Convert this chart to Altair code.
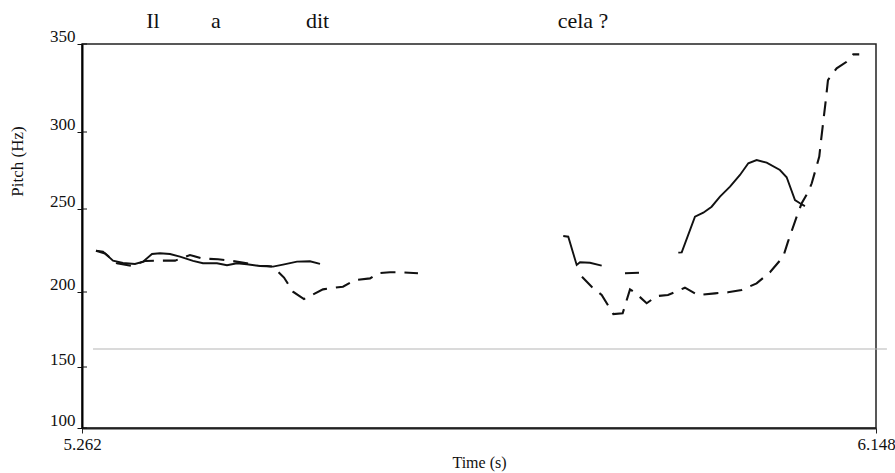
import altair as alt
import pandas as pd

# ---- data ----
words = ["Il", "a", "dit", "cela ?"]
word_time = [5.3412, 5.4115, 5.5248, 5.8210]

# solid pitch track (segments separated by unvoiced gaps)
solid_seg = [0] * 22 + [1] * 6 + [2] * 2 + [3] * 16
solid_time = [5.2776, 5.2854, 5.2966, 5.3077, 5.3211, 5.3301, 5.3401, 5.3490, 5.3602, 5.3713, 5.3859,
              5.3970, 5.4126, 5.4238, 5.4349, 5.4461, 5.4606, 5.4751, 5.4863, 5.5019, 5.5164, 5.5276,
              5.7990, 5.8046, 5.8140, 5.8177, 5.8288, 5.8419,
              5.8679, 5.8835,
              5.9274, 5.9312, 5.9460, 5.9553, 5.9646, 5.9739, 5.9851, 5.9962, 6.0055, 6.0148, 6.0260,
              6.0408, 6.0483, 6.0576, 6.0631, 6.0687]
solid_pitch = [224.9, 224.3, 218.9, 217.5, 216.9, 218.3, 222.9, 223.3, 222.9, 221.3, 218.7,
               217.3, 217.3, 216.1, 217.3, 216.7, 215.7, 215.3, 216.5, 218.3, 218.5, 216.9,
               233.7, 233.3, 216.3, 217.9, 217.6, 215.9,
               211.3, 211.6,
               223.7, 223.9, 245.4, 247.8, 251.5, 258.0, 264.5, 272.1, 279.7, 281.8, 280.1,
               275.3, 270.6, 255.8, 253.7, 251.9]

# dashed pitch track
dashed_seg = [0] * 26 + [1] * 32
dashed_time = [5.2776, 5.2877, 5.3011, 5.3178, 5.3323, 5.3524, 5.3658, 5.3825, 5.3970, 5.4138, 5.4271,
               5.4461, 5.4573, 5.4751, 5.4874, 5.4974, 5.5097, 5.5309, 5.5443, 5.5532, 5.5666, 5.5834,
               5.5923, 5.6057, 5.6168, 5.6369,
               5.8199, 5.8307, 5.8419, 5.8549, 5.8653, 5.8735, 5.8801, 5.8921, 5.9033, 5.9159, 5.9348,
               5.9493, 5.9683, 5.9828, 5.9981, 6.0148, 6.0297, 6.0445, 6.0498, 6.0595, 6.0651, 6.0725,
               6.0763, 6.0847, 6.0863, 6.0918, 6.0944, 6.0977, 6.1041, 6.1152, 6.1226, 6.1293]
dashed_pitch = [224.9, 223.2, 217.3, 215.7, 218.7, 218.9, 218.9, 222.3, 220.1, 219.7, 218.9,
                217.3, 216.3, 215.3, 208.7, 200.2, 195.3, 201.6, 202.6, 203.2, 207.2, 208.2,
                211.3, 211.9, 211.9, 211.3,
                209.2, 203.2, 198.0, 185.3, 185.8, 201.6, 199.1, 192.5, 197.3, 198.0, 202.6,
                198.0, 199.1, 199.8, 201.2, 205.2, 211.9, 221.3, 230.3, 245.4, 253.7, 261.2,
                266.7, 284.0, 292.7, 317.2, 329.5, 331.8, 336.2, 339.9, 344.1, 344.1]

# thin grey reference line
ref_time = [5.2743]
ref_time_end = [6.1602]
ref_pitch = [162.0]

x_ticks = [5.262, 6.148]
y_ticks = [100, 150, 200, 250, 300, 350]

FONT = "Liberation Serif"

solid_df = pd.DataFrame({"time": solid_time, "pitch": solid_pitch, "seg": solid_seg})
dashed_df = pd.DataFrame({"time": dashed_time, "pitch": dashed_pitch, "seg": dashed_seg})
ref_df = pd.DataFrame({"time": ref_time, "time_end": ref_time_end, "pitch": ref_pitch})
word_df = pd.DataFrame({"time": word_time, "word": words})
tick_df = pd.DataFrame({"pitch": y_ticks})

X = alt.X(
    "time:Q",
    scale=alt.Scale(domain=[x_ticks[0], x_ticks[-1]], nice=False, zero=False),
    axis=alt.Axis(
        values=x_ticks, format=".3f", title="Time (s)", grid=False,
        tickSize=5, tickColor="#222", labelPadding=3, labelFontSize=17, labelFont=FONT,
        labelFlush=False, labelOverlap=False, labelBound=False, labelColor="#111",
        titleFont=FONT, titleFontSize=16, titleFontWeight="normal", titleColor="#111",
        titleY=39, titleBaseline="alphabetic",
        domainColor="#222", domainWidth=2,
    ),
)

Y = alt.Y(
    "pitch:Q",
    scale=alt.Scale(domain=y_ticks, range=[384, 323, 248, 165, 88, 0], nice=False, zero=False),
    axis=alt.Axis(
        values=y_ticks, title="Pitch (Hz)", grid=False,
        tickSize=5, tickColor="#111", labelPadding=2, labelFontSize=17, labelFont=FONT,
        labelBaseline="bottom", labelOffset=1, labelColor="#111", labelOverlap=False,
        titleFont=FONT, titleFontSize=17, titleFontWeight="normal", titleColor="#111",
        titleX=-65, titleY=117, titleAngle=270, titleAlign="center", titleBaseline="middle",
        domainColor="#000", domainWidth=2,
    ),
)

ref_line = alt.Chart(ref_df).mark_rule(color="#b5b5b5", strokeWidth=1).encode(
    x=X, x2="time_end:Q", y=Y
)

solid = alt.Chart(solid_df).mark_line(color="#111", strokeWidth=1.9).encode(
    x=X, y=Y, detail="seg:N"
)

dashed = alt.Chart(dashed_df).mark_line(
    color="#111", strokeWidth=2.1, strokeDash=[15, 9]
).encode(x=X, y=Y, detail="seg:N")

inner_ticks = alt.Chart(tick_df).mark_rule(color="#111", strokeWidth=1).encode(
    y=Y, x=alt.value(0), x2=alt.value(5)
)

word_text = alt.Chart(word_df).mark_text(
    font=FONT, fontSize=22, baseline="alphabetic", align="center", color="#111"
).encode(x=X, y=alt.value(-16), text="word:N")

chart = alt.layer(ref_line, solid, dashed, inner_ticks, word_text).properties(
    width=794,
    height=384,
    autosize=alt.AutoSizeParams(type="none"),
    padding={"left": 82, "top": 44, "right": 19, "bottom": 45},
    background="white",
).configure_view(stroke="#222", strokeWidth=1.5)

chart.save("out.html", embed_options={"renderer": "svg", "actions": False})
